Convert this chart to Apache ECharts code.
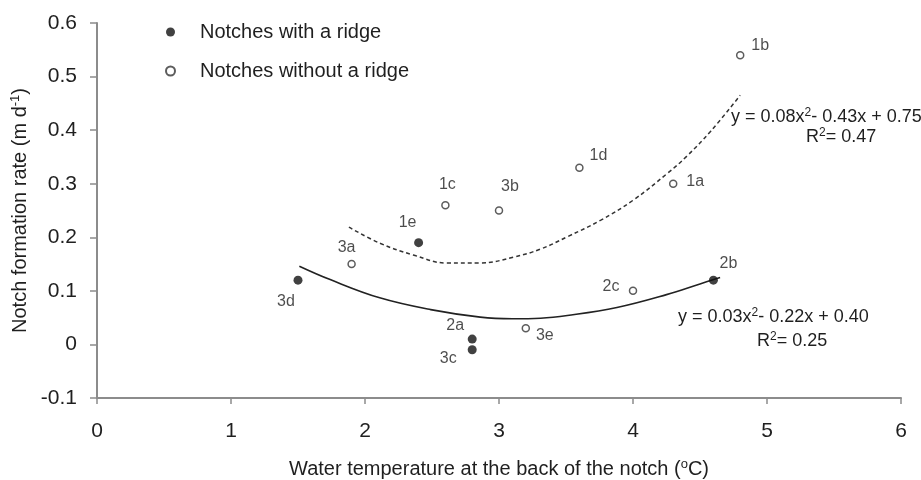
<!DOCTYPE html>
<html>
<head>
<meta charset="utf-8">
<script src="https://cdn.jsdelivr.net/npm/echarts@6/dist/echarts.min.js"></script>
<style>html,body{margin:0;padding:0;background:#fff;}#c{width:921px;height:480px;}</style>
</head>
<body>
<div id="c"></div>
<script>
// ---- data ----
const xTicks = [0, 1, 2, 3, 4, 5, 6];
const yTicks = [-0.1, 0, 0.1, 0.2, 0.3, 0.4, 0.5, 0.6];

const ridgeLabels = ['3d', '1e', '2a', '3c', '2b'];
const ridgeX = [1.5, 2.4, 2.8, 2.8, 4.6];
const ridgeY = [0.12, 0.19, 0.01, -0.01, 0.12];

const noRidgeLabels = ['3a', '1c', '3b', '1d', '1a', '1b', '2c', '3e'];
const noRidgeX = [1.9, 2.6, 3.0, 3.6, 4.3, 4.8, 4.0, 3.2];
const noRidgeY = [0.15, 0.26, 0.25, 0.33, 0.30, 0.54, 0.10, 0.03];

// fitted curves
const ridgeFitX = [1.51, 1.74, 2.11, 2.49, 2.86, 3.10, 3.31, 3.51, 3.88, 4.25, 4.50, 4.65];
const ridgeFitY = [0.146, 0.121, 0.087, 0.065, 0.051, 0.048, 0.049, 0.054, 0.069, 0.093, 0.113, 0.125];

const noRidgeFitX = [1.88, 2.11, 2.36, 2.61, 2.86, 3.11, 3.31, 3.51, 3.76, 4.00, 4.26, 4.40, 4.58, 4.80];
const noRidgeFitY = [0.219, 0.189, 0.167, 0.152, 0.152, 0.163, 0.178, 0.201, 0.232, 0.269, 0.320, 0.351, 0.398, 0.465];

const seriesNames = ['Notches with a ridge', 'Notches without a ridge'];

// ---- styling / layout ----
const FONT = 'Liberation Sans, Arial, Helvetica, sans-serif';
const TXT = '#1f1f1f';
const labelOffsets = {
  '3d': [-12, 21], '1e': [-11, -20], '2a': [-17, -13], '3c': [-24, 9], '2b': [15, -17],
  '3a': [-5, -16], '1c': [2, -21], '3b': [11, -24], '1d': [19, -12], '1a': [22, -2],
  '1b': [20, -10], '2c': [-22, -4], '3e': [19, 7]
};

function pts(xs, ys, labels) {
  return xs.map((x, i) => {
    const d = { value: [x, ys[i]] };
    if (labels) {
      d.name = labels[i];
      d.label = { offset: labelOffsets[labels[i]] };
    }
    return d;
  });
}

const pointLabel = {
  show: true, position: 'inside', formatter: p => p.name,
  fontFamily: FONT, fontSize: 16, color: TXT, textBorderWidth: 0, textBorderColor: 'transparent'
};

const chart = echarts.init(document.getElementById('c'), null, { renderer: 'canvas' });

const sup = { fontFamily: FONT, fontSize: 12, color: TXT, fill: TXT, verticalAlign: 'top', lineHeight: 20 };
const reg = { fontFamily: FONT, fontSize: 18, color: TXT, fill: TXT, lineHeight: 20 };

function eqText(x, y, text) {
  return {
    type: 'text', x: x, y: y, silent: true,
    style: { text: text, rich: { a: reg, s: sup }, align: 'left', verticalAlign: 'middle', fill: TXT }
  };
}

chart.setOption({
  animation: false,
  backgroundColor: '#fff',
  grid: { left: 97, right: 20, top: 23, bottom: 82, containLabel: false, outerBoundsMode: 'none' },
  legend: {
    data: seriesNames,
    orient: 'vertical', left: 165, top: 22, padding: 0,
    itemWidth: 9, itemHeight: 9, itemGap: 19,
    textStyle: { fontFamily: FONT, fontSize: 20, color: TXT, lineHeight: 20, padding: [0, 0, 0, 20] }
  },
  xAxis: {
    type: 'value', min: xTicks[0], max: xTicks[xTicks.length - 1], interval: 1,
    name: '{a|Water temperature at the back of the notch (}{s|o}{a|C)}',
    nameLocation: 'middle', nameGap: 60, nameMoveOverlap: false,
    nameTextStyle: {
      rich: {
        a: { fontFamily: FONT, fontSize: 20, color: TXT, lineHeight: 22 },
        s: { fontFamily: FONT, fontSize: 13, color: TXT, verticalAlign: 'top', lineHeight: 22 }
      }
    },
    axisLine: { show: true, onZero: false, lineStyle: { color: '#8c8c8c', width: 2 } },
    axisTick: { show: true, inside: false, length: 6, lineStyle: { color: '#8c8c8c', width: 1.5 } },
    axisLabel: { margin: 23, fontFamily: FONT, fontSize: 21, color: TXT },
    splitLine: { show: false }
  },
  yAxis: {
    type: 'value', min: yTicks[0], max: yTicks[yTicks.length - 1], interval: 0.1,
    name: '{a|Notch formation rate (m d}{s|-1}{a|)}',
    nameLocation: 'middle', nameGap: 66, nameRotate: 90, nameMoveOverlap: false,
    nameTextStyle: {
      rich: {
        a: { fontFamily: FONT, fontSize: 20, color: TXT, lineHeight: 22 },
        s: { fontFamily: FONT, fontSize: 13, color: TXT, verticalAlign: 'top', lineHeight: 22 }
      }
    },
    axisLine: { show: true, onZero: false, lineStyle: { color: '#8c8c8c', width: 2 } },
    axisTick: { show: true, inside: false, length: 7, lineStyle: { color: '#8c8c8c', width: 1.5 } },
    axisLabel: {
      margin: 20, fontFamily: FONT, fontSize: 21, color: TXT,
      formatter: v => String(Math.round(v * 10) / 10)
    },
    splitLine: { show: false }
  },
  series: [
    {
      name: 'ridgeFit', type: 'line', data: pts(ridgeFitX, ridgeFitY), smooth: 0.4,
      showSymbol: false, silent: true,
      lineStyle: { color: '#222', width: 1.6, type: 'solid' }, z: 2
    },
    {
      name: 'noRidgeFit', type: 'line', data: pts(noRidgeFitX, noRidgeFitY), smooth: 0.4,
      showSymbol: false, silent: true,
      lineStyle: { color: '#333', width: 1.5, type: [4, 3] }, z: 2
    },
    {
      name: seriesNames[0], type: 'scatter', data: pts(ridgeX, ridgeY, ridgeLabels),
      symbol: 'circle', symbolSize: 9,
      itemStyle: { color: '#111', borderColor: '#111', borderWidth: 0 },
      label: pointLabel, z: 3
    },
    {
      name: seriesNames[1], type: 'scatter', data: pts(noRidgeX, noRidgeY, noRidgeLabels),
      symbol: 'circle', symbolSize: 7,
      itemStyle: { color: '#fff', borderColor: '#333', borderWidth: 1.5 },
      label: pointLabel, z: 3
    }
  ],
  graphic: [
    eqText(731, 117, '{a|y = 0.08x}{s|2}{a|- 0.43x + 0.75}'),
    eqText(806, 137, '{a|R}{s|2}{a|= 0.47}'),
    eqText(678, 317, '{a|y = 0.03x}{s|2}{a|- 0.22x + 0.40}'),
    eqText(757, 341, '{a|R}{s|2}{a|= 0.25}')
  ]
});
</script>
</body>
</html>
